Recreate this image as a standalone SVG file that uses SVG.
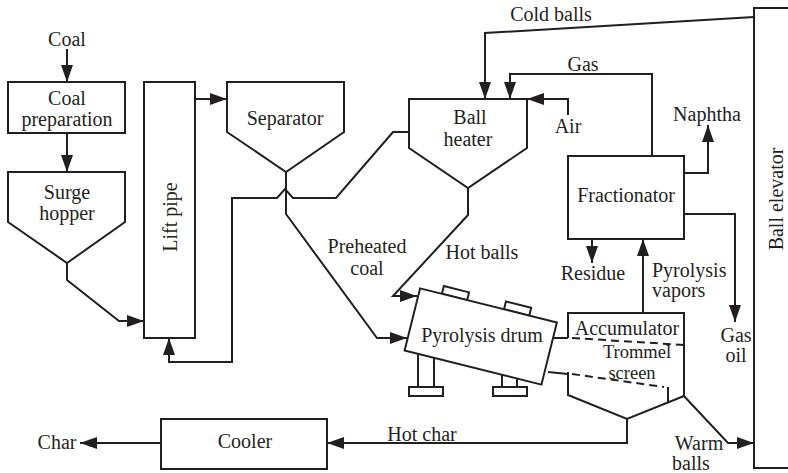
<svg xmlns="http://www.w3.org/2000/svg" width="788" height="473" viewBox="0 0 788 473">
<style>
.s{fill:none;stroke:#231f20;stroke-width:2}
.w{fill:#fff;stroke:#231f20;stroke-width:2}
.c{fill:none;stroke:#231f20;stroke-width:2;marker-end:url(#ah)}
.d{fill:none;stroke:#231f20;stroke-width:2;stroke-dasharray:8,5}
text{font-family:"Liberation Serif","DejaVu Serif",serif;font-size:20px;fill:#231f20;text-anchor:middle}
</style>
<defs>
<marker id="ah" markerWidth="17" markerHeight="12" refX="17" refY="6" orient="auto" markerUnits="userSpaceOnUse">
<path d="M0,0 L17,6 L0,12 z" fill="#231f20"/>
</marker>
</defs>
<rect width="788" height="473" fill="#fff"/>
<g id="connectors">
<path class="c" d="M67,49 L67,82"/>
<path class="c" d="M67,133 L67,172"/>
<path class="c" d="M67,263 L67,280 L119,321 L144,321"/>
<path class="c" d="M195,99 L227,99"/>
<path class="c" d="M286,172 L286,214 L377,338 L407,338"/>
<path class="c" d="M409,132 L393,132 L336,198 L293,198 L285,189 L277,198 L232,198 L232,362 L169,362 L169,338"/>
<path class="c" d="M468,188 L468,215 L393,296 L417,296"/>
<path class="c" d="M754,17 L485,33 L485,99"/>
<path class="c" d="M652,156 L652,74 L510,74 L510,99"/>
<path class="c" d="M568,115 L568,99 L527,99"/>
<path class="c" d="M684,173 L708,173 L708,125"/>
<path class="c" d="M684,214 L735,214 L735,322"/>
<path class="c" d="M592,239 L592,263"/>
<path class="c" d="M643,313 L643,239"/>
<path class="c" d="M683,395 L728,443 L754,443"/>
<path class="c" d="M627,419 L627,443 L327,443"/>
<path class="c" d="M161,443 L80,443"/>
</g>
<g id="coal"><text x="67" y="46">Coal</text></g>
<g id="coal-preparation">
<rect class="s" x="8" y="82" width="117" height="51"/>
<text x="67" y="105">Coal</text>
<text x="67" y="126">preparation</text>
</g>
<g id="surge-hopper">
<path class="s" d="M8,172 L125,172 L125,222 L67,263 L8,222 Z"/>
<text x="67" y="199">Surge</text>
<text x="67" y="220">hopper</text>
</g>
<g id="lift-pipe">
<rect class="s" x="144" y="82" width="51" height="256"/>
<text transform="translate(177,217) rotate(-90)">Lift pipe</text>
</g>
<g id="separator">
<path class="s" d="M227,82 L344,82 L344,132 L286,172 L227,132 Z"/>
<text x="285" y="125">Separator</text>
</g>
<g id="ball-heater">
<path class="s" d="M409,99 L527,99 L527,148 L468,188 L409,148 Z"/>
<text x="470" y="124">Ball</text>
<text x="468" y="146">heater</text>
<text x="568" y="133">Air</text>
</g>
<g id="labels">
<text x="551" y="21">Cold balls</text>
<text x="583" y="71">Gas</text>
<text x="707" y="121">Naphtha</text>
<text x="367" y="253">Preheated</text>
<text x="367" y="275">coal</text>
<text x="482" y="259">Hot balls</text>
<text x="593" y="280">Residue</text>
<text x="652" y="277" style="text-anchor:start">Pyrolysis</text>
<text x="652" y="297" style="text-anchor:start">vapors</text>
<text x="736" y="342">Gas</text>
<text x="736" y="362">oil</text>
<text x="699" y="450">Warm</text>
<text x="691" y="470">balls</text>
<text x="422" y="441">Hot char</text>
<text x="57" y="449">Char</text>
</g>
<g id="fractionator">
<rect class="s" x="568" y="156" width="116" height="83"/>
<text x="626" y="202">Fractionator</text>
</g>
<g id="pyrolysis-drum">
<g transform="translate(480.75,336.5) rotate(14)">
<rect class="w" x="-48" y="-40" width="26" height="8"/>
<rect class="w" x="16" y="-40" width="26" height="8"/>
<rect class="w" x="-70.5" y="-32" width="141" height="64"/>
</g>
<path class="s" d="M418,354 L418,387 M434,358 L434,387 M502,375 L502,387 M517,379 L517,387"/>
<rect class="s" x="409" y="387" width="34" height="9"/>
<rect class="s" x="493" y="387" width="34" height="9"/>
<text x="482" y="342">Pyrolysis drum</text>
</g>
<g id="accumulator">
<path class="s" d="M568,338 L568,313 L684,313 L684,396 L627,419 L568,395 L568,372"/>
<path class="s" d="M553,338 L568,338 M548,372 L568,374 M668,387 L668,403"/>
<path class="d" d="M572,338 L684,345 M572,374 L664,387"/>
<text x="627" y="335">Accumulator</text>
<text x="637" y="358" style="font-size:18.5px">Trommel</text>
<text x="632" y="378.5" style="font-size:18.5px">screen</text>
</g>
<g id="cooler">
<rect class="s" x="161" y="419" width="166" height="50"/>
<text x="245" y="448">Cooler</text>
</g>
<g id="ball-elevator">
<rect class="s" x="754" y="8" width="50" height="460"/>
<text transform="translate(783,199) rotate(-90)">Ball elevator</text>
</g>
</svg>
